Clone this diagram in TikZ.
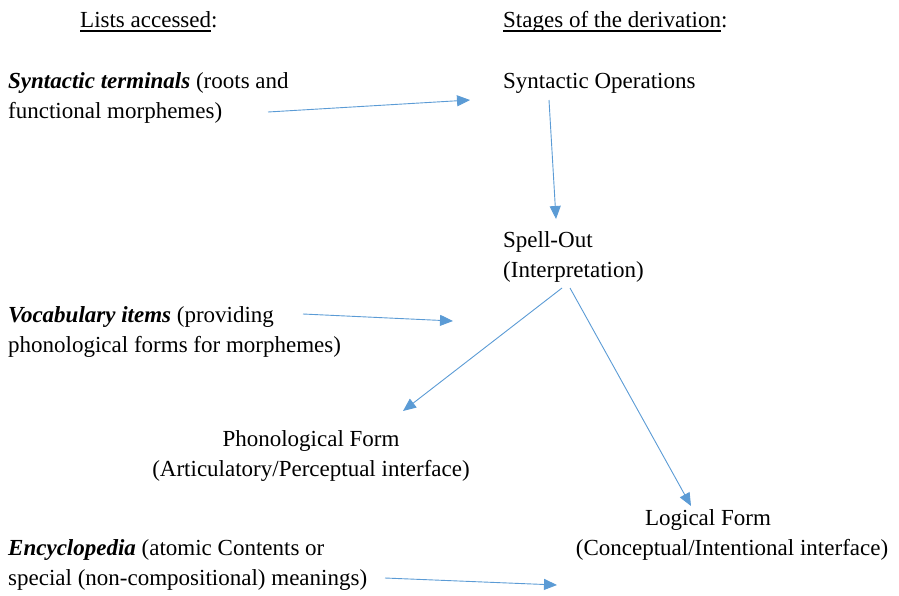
\documentclass[tikz,border=0pt]{standalone}
\usepackage{fontspec}
\setmainfont{Liberation Serif}
\usetikzlibrary{arrows.meta}
\definecolor{flowblue}{HTML}{5B9BD5}
\newcommand{\ulin}[1]{\setbox0\hbox{#1}\rlap{\rule[-4.5pt]{\wd0}{1.1pt}}\box0}

\tikzset{
  listtext/.style={inner sep=0pt, anchor=base west, align=left, font=\fontsize{23}{30}\selectfont},
  stagetext/.style={inner sep=0pt, anchor=base, align=center, font=\fontsize{23}{30}\selectfont},
  flow/.style={draw=flowblue, line width=0.9pt, -{Triangle[length=13pt,width=11pt]}},
}

\begin{document}
\begin{tikzpicture}[x=1pt,y=-1pt]
  \useasboundingbox (0,0) rectangle (899,595);

  % headings
  \node[listtext] (listhead) at (80,27) {\ulin{Lists accessed}:};
  \node[listtext] (stagehead) at (503,27) {\ulin{Stages of the derivation}:};

  % lists accessed (base = last line)
  \node[listtext] (terminals) at (8,118)
    {\textbf{\textit{Syntactic terminals}} (roots and\\functional morphemes)};
  \node[listtext] (vocab) at (8,352)
    {\textbf{\textit{Vocabulary items}} (providing\\phonological forms for morphemes)};
  \node[listtext] (encyc) at (8,585)
    {\textbf{\textit{Encyclopedia}} (atomic Contents or\\special (non-compositional) meanings)};

  % stages of the derivation
  \node[listtext] (synops) at (503,88) {Syntactic Operations};
  \node[listtext] (spellout) at (503,277) {Spell-Out\\(Interpretation)};
  \node[stagetext] (pf) at (311,476) {Phonological Form\\(Articulatory/Perceptual interface)};
  \node[stagetext] (lf) at (732,555) {Logical Form\hspace*{48pt}\\(Conceptual/Intentional interface)};

  % arrow ends
  \coordinate (terminals-out) at (268,112);
  \coordinate (synops-in) at (470,100);
  \coordinate (synops-out) at (549,100);
  \coordinate (spellout-in) at (556,219);
  \coordinate (vocab-out) at (303,314);
  \coordinate (vocab-in) at (453,321);
  \coordinate (spellout-pf) at (562,288);
  \coordinate (spellout-lf) at (570,288);
  \coordinate (pf-in) at (403,411);
  \coordinate (lf-in) at (691,506);
  \coordinate (encyc-out) at (385,578);
  \coordinate (encyc-in) at (557,585);

  \draw[flow] (terminals-out) -- (synops-in);
  \draw[flow] (synops-out) -- (spellout-in);
  \draw[flow] (vocab-out) -- (vocab-in);
  \draw[flow] (spellout-pf) -- (pf-in);
  \draw[flow] (spellout-lf) -- (lf-in);
  \draw[flow] (encyc-out) -- (encyc-in);
\end{tikzpicture}
\end{document}
